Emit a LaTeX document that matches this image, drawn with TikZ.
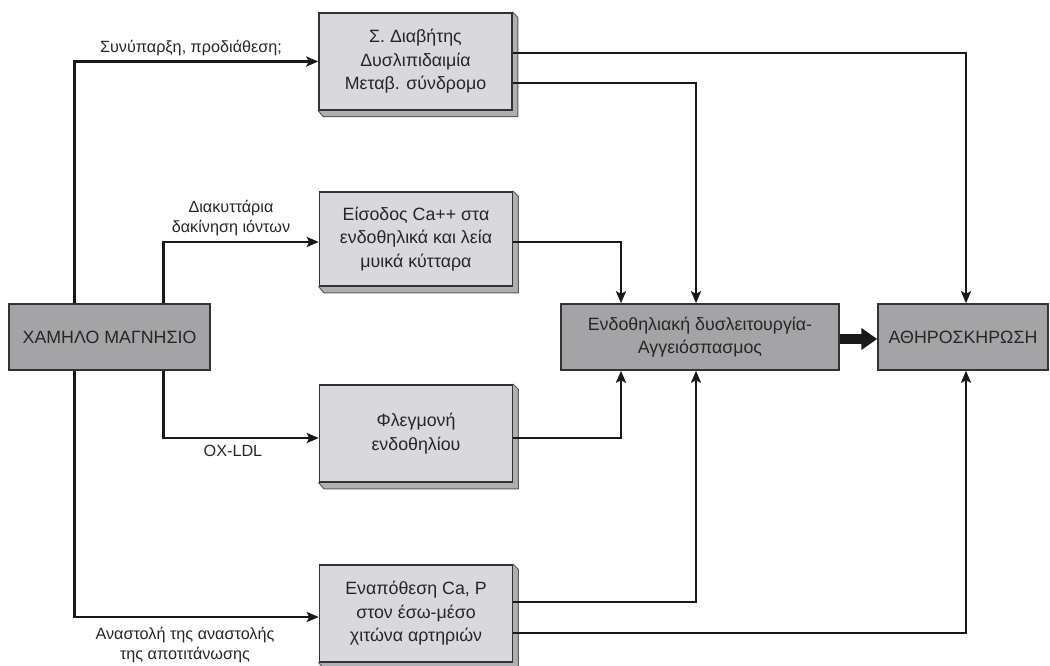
\documentclass[tikz,border=0pt]{standalone}
\usepackage{fontspec}
\setmainfont{Liberation Sans}
\usetikzlibrary{arrows.meta,backgrounds}
\definecolor{lightbox}{HTML}{D9D9DD}
\definecolor{darkbox}{HTML}{A4A4A6}
\definecolor{edgec}{HTML}{333333}
\definecolor{txtc}{HTML}{262626}
\definecolor{shadec}{HTML}{B0B0B4}
\newcommand\bxfont{\fontsize{17.8}{23.5}\selectfont}
\newcommand\lbfont{\fontsize{16.2}{20.5}\selectfont}
\begin{document}
\begin{tikzpicture}[x=1pt,y=-1pt,
  lbox/.style={draw=edgec, line width=1.5pt, fill=lightbox, minimum width=193pt, minimum height=97pt, align=center, text=txtc, font=\bxfont, inner sep=2pt},
  dbox/.style={draw=edgec, line width=1.5pt, fill=darkbox, minimum height=66pt, align=center, text=txtc, font=\bxfont, inner sep=2pt},
  conn/.style={line width=2.5pt, draw=black!90, -{Stealth[length=12pt,width=10pt,inset=2.5pt]}},
  lab/.style={text=txtc, font=\lbfont, align=center, inner sep=0pt}]
\useasboundingbox (0,0) rectangle (1050,666);
% boxes
\node[lbox] (b1) at (415.5,61.5) {Σ. Διαβήτης\\Δυσλιπιδαιμία\\Μεταβ. σύνδρομο};
\node[lbox, minimum height=94pt] (b2) at (416,239) {Είσοδος Ca++ στα\\ενδοθηλικά και λεία\\μυικά κύτταρα};
\node[lbox] (b3) at (416,433.5) {Φλεγμονή\\ενδοθηλίου};
\node[lbox] (b4) at (416,613.5) {Εναπόθεση Ca, P\\στον έσω-μέσο\\χιτώνα αρτηριών};
\node[dbox, minimum width=201pt] (mg) at (109.5,337) {ΧΑΜΗΛΟ ΜΑΓΝΗΣΙΟ};
\node[dbox, minimum width=278pt] (endo) at (700,337) {Ενδοθηλιακή δυσλειτουργία-\\Αγγειόσπασμος};
\node[dbox, minimum width=170pt] (ath) at (963,337) {ΑΘΗΡΟΣΚΗΡΩΣΗ};
% 3D edges of light boxes
\begin{scope}[on background layer]
\foreach \n in {b1,b2,b3,b4}{
  \filldraw[fill=shadec, draw=edgec!80, line width=1pt]
    (\n.north east) -- ([shift={(5pt,-5pt)}]\n.north east)
    -- ([shift={(5pt,-6pt)}]\n.south east) -- ([shift={(5pt,-6pt)}]\n.south west)
    -- (\n.south west) -- cycle;
}
\end{scope}
% labels
\node[lab] (l1) at (191,48) {Συνύπαρξη, προδιάθεση;};
\node[lab] (l2) at (231,218) {Διακυττάρια\\δακίνηση ιόντων};
\node[lab] (l3) at (233,451) {OX-LDL};
\node[lab] (l4) at (185,645) {Αναστολή της αναστολής\\της αποτιτάνωσης};
% connectors from low magnesium
\draw[conn] ([xshift=66pt]mg.north west) |- (b1.west);
\draw[conn] ([xshift=155pt]mg.north west) |- ([yshift=-3pt]b2.west);
\draw[conn] ([xshift=155pt]mg.south west) |- ([yshift=-4.5pt]b3.west);
\draw[conn] ([xshift=66pt]mg.south west) |- ([yshift=-3.5pt]b4.west);
% connectors to endothelial dysfunction / atherosclerosis
\draw[conn] ([yshift=8.5pt]b1.east) -| ([xshift=3pt]ath.north);
\draw[conn] ([yshift=-21.5pt]b1.east) -| ([xshift=-4pt]endo.north);
\draw[conn] ([yshift=-3pt]b2.east) -| ([xshift=-79pt]endo.north);
\draw[conn] ([yshift=-4.5pt]b3.east) -| ([xshift=-79pt]endo.south);
\draw[conn] ([yshift=11.5pt]b4.east) -| ([xshift=-4pt]endo.south);
\draw[conn] ([yshift=-19.5pt]b4.east) -| ([xshift=3pt]ath.south);
% thick arrow
\draw[line width=10pt, draw=black!90, -{Triangle[length=16pt,width=21pt]}] ([yshift=-2pt]endo.east) -- ([yshift=-2pt]ath.west);
\end{tikzpicture}
\end{document}
